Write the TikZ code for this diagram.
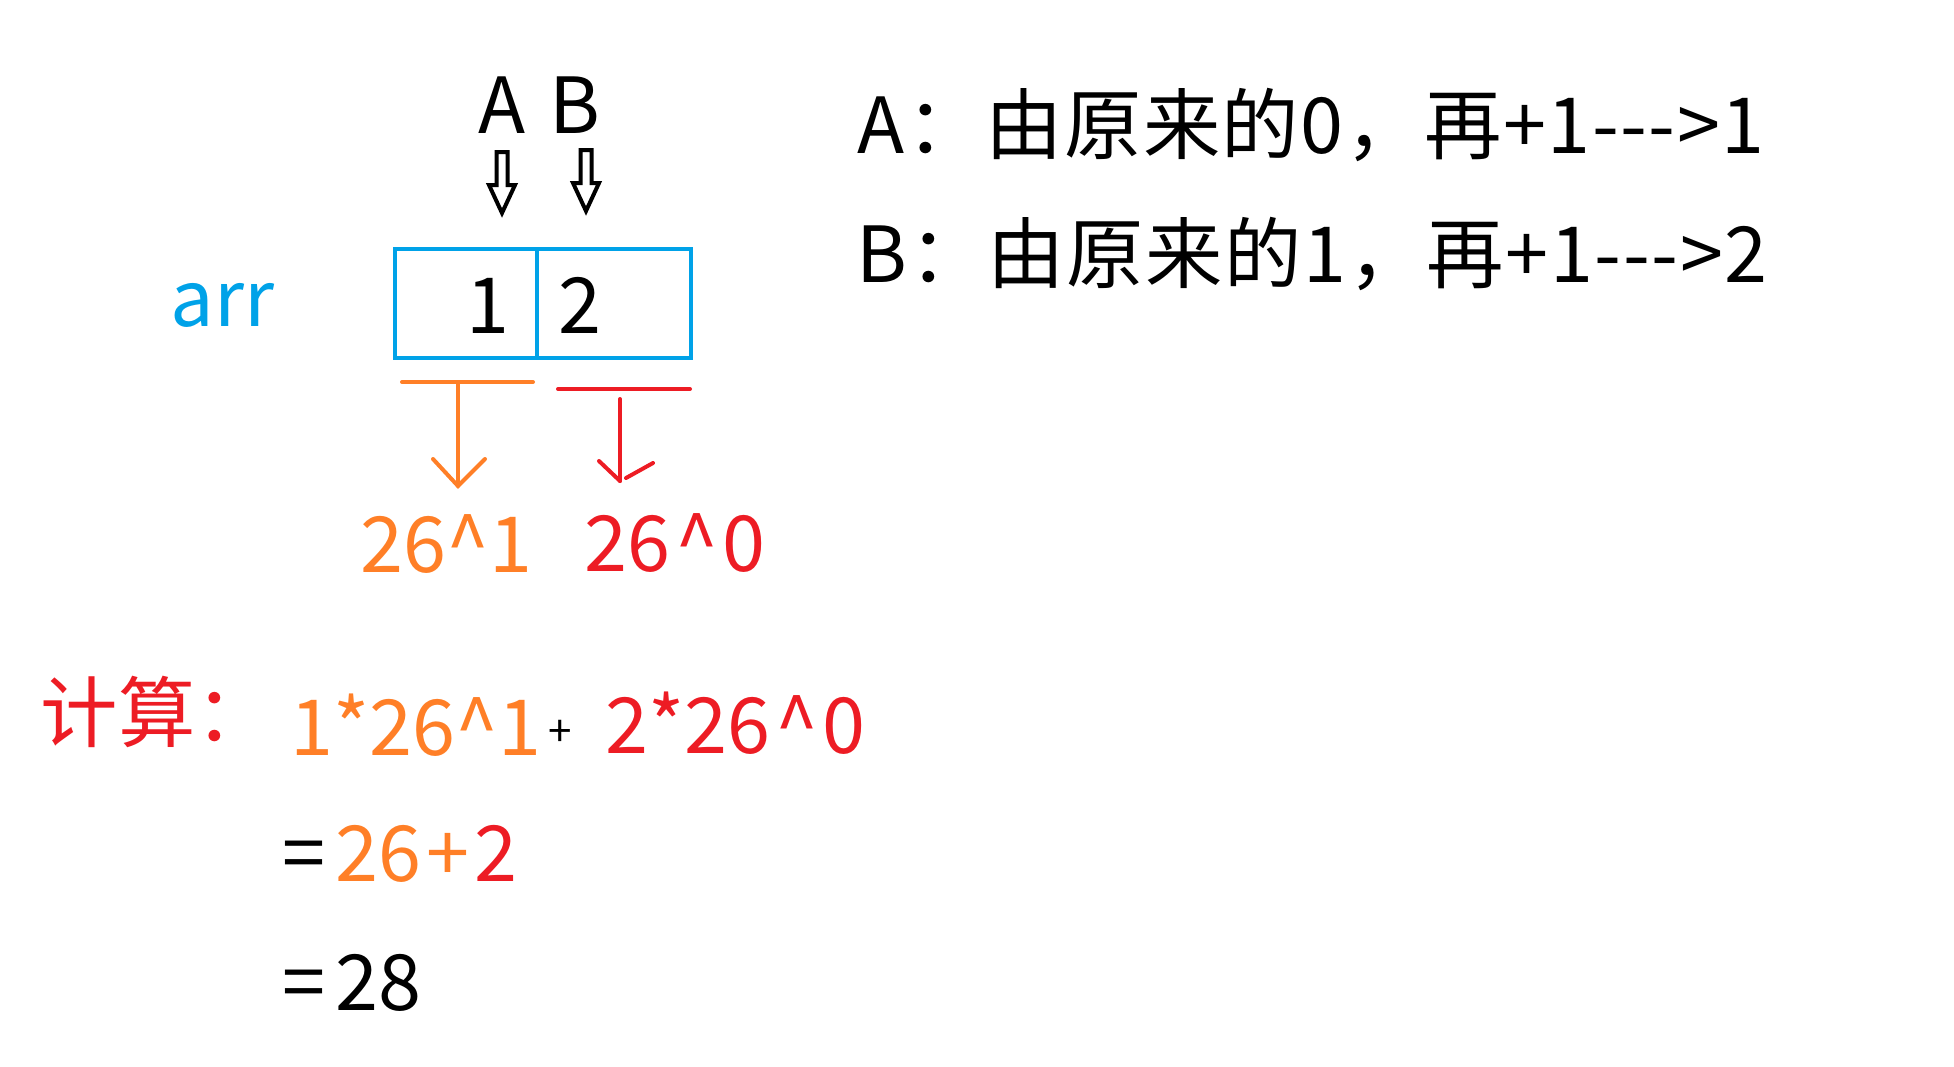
\documentclass[tikz,border=0pt]{standalone}
\usepackage{fontspec}
\newfontfamily\yh{Noto Sans CJK SC}
\usetikzlibrary{positioning}
\definecolor{arrblue}{HTML}{00A2E8}
\definecolor{hiorange}{HTML}{FF7F27}
\definecolor{lored}{HTML}{ED1C24}
\newcommand\caret{\kern0.045cm\textasciicircum\kern0.045cm}
\tikzset{
x=0.01cm,
y=-0.01cm,
txt/.style={inner sep=0pt, font=\yh\fontsize{22}{26}\selectfont},
wide/.style={txt, font=\yh\fontsize{22}{26}\selectfont\addfontfeature{LetterSpace=2}},
cell/.style={draw=arrblue, line width=0.04cm, minimum height=1.09cm, inner sep=0pt, outer sep=0pt},
stroke/.style={line width=0.04cm, line cap=round},
hollow/.pic={
  \draw[line width=0.04cm, line join=miter] (-5.5,0) -- (-5.5,33) -- (-13,33) -- (0,61) -- (13,33) -- (5.5,33) -- (5.5,0) -- cycle;
},
}

\begin{document}
\begin{tikzpicture}
    \useasboundingbox (0,0) rectangle (1954,1066);

    %array
    \node[txt, arrblue, anchor=base west] (arr) at (170,326) {arr};
    \node[cell, minimum width=1.42cm] (c0) at (466,303.5) {};
    \node[cell, minimum width=1.54cm, right=0pt of c0] (c1) {};
    \node[txt, anchor=base] (v0) at (488,333) {1};
    \node[txt, anchor=base] (v1) at (580,333) {2};

    %pointers
    \node[txt, anchor=base] (A) at (502,133) {A};
    \node[txt, anchor=base] (B) at (575,133) {B};
    \pic at (502,152) {hollow};
    \pic at (586,150) {hollow};

    %weights
    \coordinate (o1) at (458,382);
    \coordinate (o2) at (458,486);
    \coordinate (r1) at (620,399);
    \coordinate (r2) at (620,481);
    \draw[stroke, hiorange] (402,382) -- (533,382);
    \draw[stroke, hiorange] (o1) -- (o2);
    \draw[stroke, hiorange] (433,459) -- (o2) -- (485,459);
    \draw[stroke, lored] (558,389) -- (690,389);
    \draw[stroke, lored] (r1) -- (r2);
    \draw[stroke, lored] (599,461) -- (r2);
    \draw[stroke, lored] (626,478) -- (653,463);
    \node[txt, hiorange, anchor=base west] (p1) at (360,572) {26\textasciicircum1};
    \node[txt, lored, anchor=base west] (p0) at (584,571) {26\caret0};

    %rules
    \node[wide, anchor=base west] (ruleA) at (857,153) {A：由原来的0，再+1{-}{-}{-}>1};
    \node[wide, anchor=base west] (ruleB) at (856,282) {B：由原来的1，再+1{-}{-}{-}>2};

    %calculation
    \node[txt, lored, anchor=base west] (calc) at (40,741) {计算：};
    \node[txt, hiorange, anchor=base west] (t1) at (290,755) {1*26\textasciicircum1};
    \node[inner sep=0pt, font=\yh\fontsize{12}{14}\selectfont] (plus) at (560,733) {+};
    \node[txt, lored, anchor=base west] (t0) at (605,753) {2*26\caret0};
    \node[txt, anchor=base west] (sum) at (282,881) {=\kern0.1cm\textcolor{hiorange}{26\kern0.05cm+\kern0.05cm}\textcolor{lored}{2}};
    \node[txt, anchor=base west] (res) at (282,1010) {=\kern0.1cm28};

\end{tikzpicture}
\end{document}
